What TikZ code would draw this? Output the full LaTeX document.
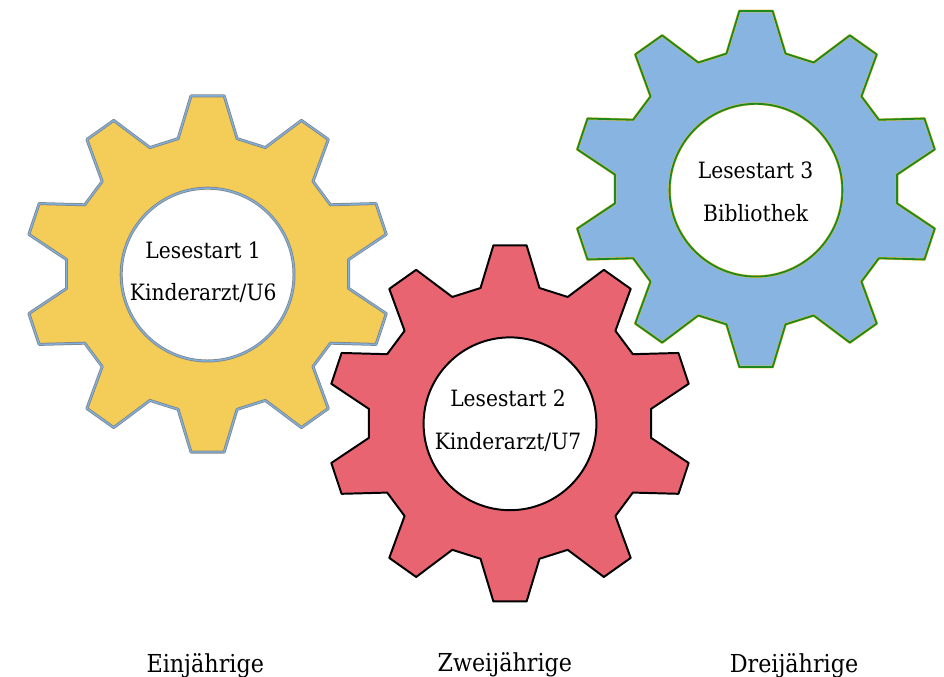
\documentclass[tikz,border=0pt]{standalone}
\usepackage{fontspec}
\setmainfont{DejaVu Serif Condensed}
\usepackage{tikz}

\definecolor{gearyellow}{HTML}{F4CC58}
\definecolor{gearred}{HTML}{E96471}
\definecolor{gearblue}{HTML}{88B4E2}
\definecolor{rimgray}{HTML}{808488}
\definecolor{rimblue}{HTML}{7FB0DD}
\definecolor{rimgreen}{HTML}{1E8A1E}
\definecolor{rimgold}{HTML}{E8C040}

\tikzset{
  yellowrim/.style={draw=rimgray,double=rimblue,line width=0.55pt,double distance=1pt,line join=round},
  redrim/.style={draw=black,line width=1.4pt,line join=round},
  bluerim/.style={draw=rimgold,double=rimgreen,line width=0.3pt,double distance=1.3pt,line join=round},
  hole/.style={circle,fill=white,inner sep=0pt,minimum size=4.32cm},
  lesetext/.style={anchor=base,font=\fontsize{16}{19}\selectfont,text=black},
  agetext/.style={anchor=base,font=\fontsize{17.6}{21}\selectfont,text=black}
}

% one gear: centre x, centre y, fill, rim style
\newcommand{\gear}[4]{
  \draw [#4,fill=#3,shift={(#1,#2)},xscale=1.025] (78:3.46)
    \foreach \t in {90,126,...,414} {
      -- (\t-12:3.46) -- (\t-5.2:4.47) -- (\t+5.2:4.47) -- (\t+12:3.46)
    } -- cycle;
}

\begin{document}
\begin{tikzpicture}
\useasboundingbox (0,0) rectangle (23.6,16.925);

%Yellow gear
\gear{5.19}{10.075}{gearyellow}{yellowrim}
\node [hole,yellowrim] (hole1) at (5.19,10.06) {};
\node [lesetext] (top1) at (5.08,10.46) {Lesestart 1};
\node [lesetext] (bot1) at (5.08,9.41) {Kinderarzt/U6};

%Red gear
\gear{12.75}{6.34}{gearred}{redrim}
\node [hole,redrim] (hole2) at (12.75,6.33) {};
\node [lesetext] (top2) at (12.70,6.75) {Lesestart 2};
\node [lesetext] (bot2) at (12.70,5.68) {Kinderarzt/U7};

%Blue gear
\gear{18.9}{12.2}{gearblue}{bluerim}
\node [hole,bluerim] (hole3) at (18.9,12.17) {};
\node [lesetext] (top3) at (18.89,12.47) {Lesestart 3};
\node [lesetext] (bot3) at (18.89,11.39) {Bibliothek};

%Ages
\node [agetext] (age1) at (5.13,0.10) {Einjährige};
\node [agetext] (age2) at (12.62,0.13) {Zweijährige};
\node [agetext] (age3) at (19.85,0.10) {Dreijährige};
\end{tikzpicture}
\end{document}
